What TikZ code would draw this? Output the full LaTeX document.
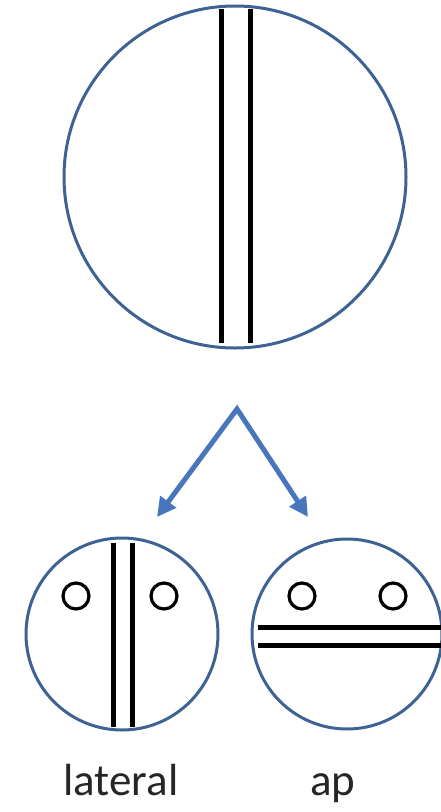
\documentclass[tikz,border=0pt]{standalone}
\usepackage{fontspec}
\setmainfont{Carlito}
\usepackage{tikz}
\usetikzlibrary{arrows.meta,positioning,calc}
\usepackage{xcolor}
\definecolor{rimblue}{RGB}{62,98,148}
\definecolor{arrowblue}{RGB}{72,118,188}

\begin{document}
\begin{tikzpicture}[x=1pt, y=-1pt,
    disc/.style={circle, draw=rimblue, line width=3pt, inner sep=0pt},
    eye/.style={circle, draw=black, line width=3.2pt, inner sep=0pt, minimum size=26pt},
    bar/.style={black, line width=5pt},
    arr/.style={{Triangle[length=19pt, width=19pt]}-{Triangle[length=19pt, width=19pt]}, line width=5pt, arrowblue, line join=miter},
    lbl/.style={font=\fontsize{45}{54}\selectfont, anchor=base, text=black!85}
]
    \useasboundingbox (0,0) rectangle (440,812);

    \node[disc, minimum size=342pt] (big) at (235,177) {};
    \draw[bar] ([shift={(-14,-168)}]big.center) -- ([shift={(-14,166)}]big.center);
    \draw[bar] ([shift={(15,-168)}]big.center) -- ([shift={(15,166)}]big.center);

    \coordinate (apex) at (237,409);
    \coordinate (lattip) at (157,517);
    \coordinate (aptip) at (308,517);
    \draw[arr] (lattip) -- (apex) -- (aptip);

    \node[disc, minimum size=192pt] (lat) at (122,634) {};
    \draw[bar] ([shift={(-9,-91)}]lat.center) -- ([shift={(-9,93)}]lat.center);
    \draw[bar] ([shift={(10,-91)}]lat.center) -- ([shift={(10,93)}]lat.center);
    \node[eye] (latl) at ([shift={(-46,-38)}]lat.center) {};
    \node[eye] (latr) at ([shift={(42,-38)}]lat.center) {};

    \node[disc, minimum size=190pt] (ap) at (347,634) {};
    \draw[bar] ([shift={(-89,-7)}]ap.center) -- ([shift={(95,-7)}]ap.center);
    \draw[bar] ([shift={(-89,11)}]ap.center) -- ([shift={(95,11)}]ap.center);
    \node[eye] (apl) at ([shift={(-45,-38)}]ap.center) {};
    \node[eye] (apr) at ([shift={(46,-38)}]ap.center) {};

    \node[lbl] (latlbl) at (121,795) {lateral};
    \node[lbl] (aplbl) at (333,795) {ap};
\end{tikzpicture}
\end{document}
